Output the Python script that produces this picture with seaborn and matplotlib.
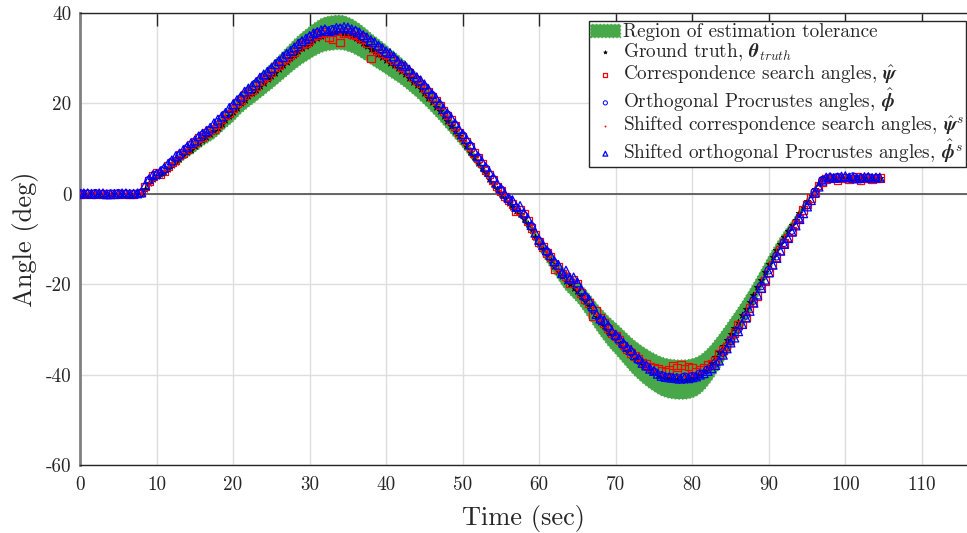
import numpy as np
import pandas as pd
import seaborn as sns
import matplotlib.pyplot as plt
from matplotlib.patches import Patch

# ground truth, sampled every 0.5 s
time_truth = np.arange(0, 104.75, 0.5)
truth = [
    0.0, 0.0, 0.0, 0.0, 0.0, 0.0, 0.0, 0.0, 0.0, 0.0, 0.0, 0.0, 0.0, 0.0, 0.0, 0.0,
    0.0, 1.0, 2.3, 3.2, 3.9, 4.3, 4.8, 5.5, 6.3, 7.0, 7.8, 8.5, 9.2, 9.8,
    10.5, 11.2, 12.0, 12.6, 13.2, 13.8, 14.6, 15.5, 16.4, 17.2, 18.0, 19.0, 20.0, 20.8,
    21.6, 22.3, 23.0, 23.8, 24.5, 25.3, 26.0, 26.8, 27.6, 28.4, 29.2, 30.0, 30.8, 31.5,
    32.2, 32.8, 33.4, 34.0, 34.5, 35.0, 35.3, 35.5, 35.6, 35.7, 35.7, 35.6, 35.3, 35.0,
    34.5, 34.0, 33.4, 32.8, 32.1, 31.5, 30.9, 30.3, 29.7, 29.0, 28.4, 27.8, 27.1, 26.4,
    25.6, 24.8, 24.0, 23.1, 22.2, 21.3, 20.3, 19.3, 18.3, 17.2, 16.1, 15.0, 13.9, 12.8,
    11.7, 10.5, 9.3, 8.1, 6.9, 5.7, 4.5, 3.3, 2.2, 1.1, 0.0, -1.0, -2.0, -2.9,
    -3.7, -4.5, -5.5, -6.7, -8.0, -9.5, -11.0, -12.3, -13.5, -14.7, -15.9, -17.0, -18.2, -19.2,
    -20.0, -20.8, -21.6, -22.6, -23.7, -24.8, -26.0, -27.2, -28.3, -29.3, -30.3, -31.2, -32.0, -32.9,
    -33.8, -34.7, -35.6, -36.4, -37.1, -37.8, -38.4, -39.0, -39.5, -40.0, -40.4, -40.7, -40.9, -41.0,
    -41.1, -41.1, -41.1, -41.0, -40.8, -40.5, -40.0, -39.3, -38.4, -37.4, -36.2, -35.0, -33.7, -32.4,
    -31.0, -29.7, -28.3, -26.9, -25.4, -23.9, -22.3, -20.7, -19.0, -17.3, -15.6, -14.0, -12.5, -11.0,
    -9.6, -8.3, -7.0, -5.7, -4.3, -2.9, -1.5, -0.2, 1.1, 2.4, 3.4, 3.6, 3.5, 3.5,
    3.5, 3.5, 3.5, 3.5, 3.5, 3.5, 3.5, 3.5, 3.5, 3.5, 3.5, 3.5,
]

# correspondence search and shifted Procrustes estimates, every 0.5 s
time_dense = np.arange(0, 104.75, 0.5)
corr_search = [
    0.0, 0.0, 0.1, -0.1, -0.1, 0.1, 0.0, 0.0, 0.1, -0.1,
    0.0, 0.1, -0.1, 0.0, 0.0, 0.1, 0.3, 1.6, 2.8, 4.0,
    4.6, 4.4, 5.0, 6.1, 6.9, 7.4, 8.6, 9.0, 9.8, 10.9,
    11.4, 12.3, 12.6, 13.5, 14.1, 14.4, 15.3, 16.6, 17.4, 17.8,
    18.9, 20.1, 20.6, 21.8, 22.5, 23.0, 23.8, 25.0, 25.6, 26.0,
    26.9, 28.0, 28.4, 29.5, 30.1, 30.6, 31.4, 32.5, 33.0, 33.4,
    34.0, 34.9, 35.1, 35.5, 35.8, 34.6, 34.1, 35.9, 33.5, 35.6,
    35.8, 35.2, 35.0, 34.7, 34.2, 33.3, 29.9, 32.3, 31.8, 31.0,
    30.6, 30.1, 29.5, 28.6, 28.0, 27.6, 26.8, 25.7, 25.1, 24.4,
    23.3, 22.5, 21.4, 20.6, 19.5, 18.3, 17.3, 16.3, 15.0, 13.6,
    12.6, 11.6, 10.4, 9.0, 7.9, 6.7, 5.3, 4.3, 3.0, 1.6,
    0.6, -0.6, -1.5, -2.2, -3.9, -3.6, -4.4, -6.0, -7.5, -9.1,
    -10.6, -11.8, -13.1, -14.0, -16.6, -16.1, -17.6, -18.3, -19.8, -19.0,
    -20.0, -22.0, -23.4, -24.2, -27.1, -25.8, -27.5, -28.6, -29.8, -30.9,
    -31.4, -32.3, -33.6, -34.4, -35.2, -35.9, -36.4, -37.3, -37.6, -38.3,
    -38.6, -38.7, -39.1, -39.3, -38.9, -38.0, -38.4, -37.9, -38.8, -38.2,
    -38.6, -39.4, -38.9, -38.6, -37.9, -37.6, -37.0, -35.4, -34.6, -33.8,
    -32.4, -30.8, -29.0, -28.9, -27.4, -25.2, -23.9, -22.6, -20.8, -19.3,
    -17.3, -15.6, -14.0, -12.4, -10.9, -9.7, -8.2, -6.7, -5.3, -3.6,
    -2.4, -0.9, 0.3, 1.8, 2.6, 3.3, 3.4, 3.6, 3.0, 3.5,
    3.6, 3.3, 3.4, 3.7, 3.1, 3.5, 3.5, 3.2, 3.4, 3.5,
]
procrustes_shifted = [
    0.0, 0.1, 0.1, 0.0, 0.0, 0.1, 0.1, -0.1, -0.1, 0.0,
    0.0, 0.1, 0.1, 0.0, 0.0, 0.1, 0.3, 1.9, 3.2, 4.1,
    4.4, 5.0, 5.7, 6.6, 7.4, 8.3, 8.9, 9.7, 10.4, 11.2,
    11.8, 12.7, 13.3, 13.9, 14.6, 15.6, 16.4, 17.1, 17.9, 19.0,
    19.8, 20.7, 21.5, 22.6, 23.3, 23.9, 24.7, 25.7, 26.4, 27.0,
    27.8, 28.7, 29.4, 30.3, 31.0, 31.6, 32.4, 33.2, 33.8, 34.3,
    34.9, 35.5, 35.8, 36.2, 36.4, 36.0, 36.2, 36.7, 36.6, 36.9,
    36.8, 36.4, 36.1, 35.7, 35.1, 34.6, 34.0, 33.5, 32.8, 32.2,
    31.5, 31.1, 30.4, 29.4, 28.7, 28.3, 27.5, 26.5, 25.8, 25.1,
    24.2, 23.2, 22.1, 21.2, 20.0, 18.8, 17.8, 16.8, 15.6, 14.3,
    13.2, 12.1, 10.9, 9.5, 8.3, 7.2, 5.9, 4.8, 3.6, 2.3,
    1.2, 0.0, -0.9, -1.4, -2.9, -2.7, -4.2, -5.4, -6.9, -8.6,
    -10.2, -11.3, -12.5, -13.6, -14.9, -15.7, -17.5, -17.0, -18.8, -18.5,
    -19.6, -21.2, -22.5, -23.4, -24.9, -26.6, -27.6, -28.0, -29.1, -30.4,
    -31.2, -32.0, -33.0, -33.9, -34.6, -35.7, -36.4, -37.4, -38.0, -38.7,
    -39.2, -39.8, -40.3, -40.5, -40.6, -40.7, -40.8, -40.9, -40.7, -40.8,
    -40.6, -40.4, -40.0, -39.7, -39.2, -38.6, -37.9, -36.9, -35.6, -34.2,
    -32.9, -31.8, -30.4, -28.8, -27.4, -25.9, -24.1, -22.3, -20.8, -19.0,
    -17.4, -15.7, -14.2, -12.6, -11.1, -9.8, -8.4, -7.0, -5.6, -4.3,
    -2.8, -1.4, 0.2, 1.6, 2.9, 3.6, 3.7, 3.5, 3.6, 3.8,
    3.9, 3.6, 3.6, 3.4, 3.5, 3.7, 3.7, 3.5, 3.6, 3.6,
]

# Procrustes and shifted correspondence estimates, every 1 s
time_est = np.arange(0, 105, 1)
procrustes = [
    0.1, 0.0, 0.1, -0.1, 0.0, 0.1, 0.0, -0.1, 0.2, 3.0,
    4.2, 5.4, 7.1, 8.4, 10.1, 11.2, 13.0, 14.0, 15.8, 17.5,
    19.3, 21.1, 22.8, 24.4, 25.9, 27.4, 29.0, 30.6, 32.0, 33.5,
    34.6, 35.6, 36.2, 36.4, 36.5, 36.3, 35.9, 34.8, 33.6, 32.4,
    31.0, 29.8, 28.3, 27.0, 25.3, 23.7, 21.8, 19.6, 17.5, 15.2,
    12.9, 10.6, 8.0, 5.6, 3.2, 0.9, -1.2, -3.1, -4.8, -7.2,
    -10.5, -12.8, -15.4, -17.9, -19.1, -20.6, -22.8, -25.5, -28.0, -29.6,
    -31.6, -33.4, -35.0, -36.8, -38.2, -39.4, -40.2, -40.6, -40.7, -40.5,
    -40.4, -39.8, -38.9, -37.5, -35.1, -32.5, -30.0, -26.9, -23.6, -20.4,
    -16.9, -13.8, -10.8, -8.1, -5.4, -2.5, 0.4, 3.0, 3.6, 3.7,
    3.5, 3.8, 3.4, 3.6, 3.5,
]
corr_shifted = [
    0.0, 0.0, 0.1, 0.0, 0.0, -0.1, 0.0, 0.0, 0.2, 2.5,
    4.1, 5.0, 6.6, 8.1, 9.5, 10.9, 12.4, 13.6, 15.0, 16.9,
    18.5, 20.4, 22.0, 23.5, 25.0, 26.5, 28.1, 29.7, 31.2, 32.7,
    33.9, 34.9, 35.6, 35.2, 35.4, 35.6, 35.0, 33.9, 32.6, 31.4,
    30.2, 28.9, 27.6, 26.2, 24.6, 22.8, 20.9, 18.9, 16.7, 14.5,
    12.2, 9.9, 7.5, 5.0, 2.7, 0.4, -1.7, -3.4, -5.1, -7.6,
    -10.7, -13.2, -15.7, -18.0, -19.6, -21.0, -23.3, -25.8, -28.0, -30.0,
    -31.8, -33.6, -35.3, -36.9, -38.2, -39.3, -40.0, -40.1, -40.0, -40.2,
    -40.0, -39.5, -38.3, -36.8, -34.3, -31.8, -29.1, -26.3, -23.2, -19.9,
    -16.5, -13.3, -10.3, -7.6, -4.9, -2.1, 0.6, 3.0, 3.5, 3.5,
    3.6, 3.5, 3.4, 3.5, 3.5,
]

tolerance_frac = 0.10  # tolerance as a fraction of the true angle
x_ticks = [0, 10, 20, 30, 40, 50, 60, 70, 80, 90, 100, 110]
y_ticks = [-60, -40, -20, 0, 20, 40]

green = "#48a748"

df_truth = pd.DataFrame({"t": time_truth, "angle": truth})
df_dense = pd.DataFrame({"t": time_dense, "corr": corr_search, "proc_s": procrustes_shifted})
df_est = pd.DataFrame({"t": time_est, "proc": procrustes, "corr_s": corr_shifted})
tol = tolerance_frac * np.abs(df_truth["angle"]) + 0.2

sns.set_theme(style="white")
plt.rcParams["font.family"] = ["cmr10", "DejaVu Serif"]
plt.rcParams["mathtext.fontset"] = "cm"
plt.rcParams["axes.unicode_minus"] = False

fig = plt.figure(figsize=(9.67, 5.33), dpi=100)
ax = fig.add_axes([80 / 967, 68 / 533, 887 / 967, 452 / 533])

ax.fill_between(df_truth["t"], df_truth["angle"] - tol, df_truth["angle"] + tol,
                color=green, edgecolor=green, linestyle=":", linewidth=1, zorder=2)
ax.axhline(0, color="#4d4d4d", lw=1.2, zorder=1.5)

sns.scatterplot(data=df_truth, x="t", y="angle", ax=ax, marker="*", s=26,
                color="black", edgecolor="black", linewidth=0.4, zorder=3)
sns.scatterplot(data=df_dense, x="t", y="corr", ax=ax, marker="s", s=30,
                color="red", facecolor="none", edgecolor="red", linewidth=0.9, zorder=4)
sns.scatterplot(data=df_est, x="t", y="proc", ax=ax, marker="o", s=30,
                color="blue", facecolor="none", edgecolor="blue", linewidth=0.7, zorder=4)
sns.scatterplot(data=df_est, x="t", y="corr_s", ax=ax, marker="o", s=6,
                color="red", edgecolor="red", linewidth=0, zorder=5)
sns.scatterplot(data=df_dense, x="t", y="proc_s", ax=ax, marker="^", s=40,
                color="blue", facecolor="none", edgecolor="blue", linewidth=0.9, zorder=5)

ax.set_xlim(0, 115.9)
ax.set_ylim(-60, 40)
ax.set_xticks(x_ticks, labels=[str(v) for v in x_ticks])
ax.set_yticks(y_ticks, labels=[str(v) for v in y_ticks])
ax.grid(True, color="#dedede", lw=1)
ax.set_axisbelow(True)
ax.tick_params(direction="in", length=9, width=1, top=True, right=False,
               labelsize=13.8, colors="#262626")
ax.tick_params(axis="x", pad=8)
ax.tick_params(axis="y", pad=6)
for side in ["top", "bottom"]:
    ax.spines[side].set_color("#262626")
    ax.spines[side].set_linewidth(1)
ax.spines["left"].set_color("#808080")
ax.spines["left"].set_linewidth(2)
ax.spines["right"].set_visible(False)

ax.set_xlabel("Time (sec)", fontsize=19, color="#262626", labelpad=8)
ax.set_ylabel("Angle (deg)", fontsize=19, color="#262626", labelpad=5)

handles = ax.collections[1:6]
handles = [Patch(facecolor=green, edgecolor=green, linestyle=":")] + list(handles)
labels = [
    "Region of estimation tolerance",
    r"Ground truth, $\boldsymbol{\theta}_{truth}$",
    r"Correspondence search angles, $\hat{\boldsymbol{\psi}}$",
    r"Orthogonal Procrustes angles, $\hat{\boldsymbol{\phi}}$",
    r"Shifted correspondence search angles, $\hat{\boldsymbol{\psi}}^s$",
    r"Shifted orthogonal Procrustes angles, $\hat{\boldsymbol{\phi}}^s$",
]
leg = ax.legend(handles, labels, loc="upper right",
                bbox_to_anchor=(966 / 967, 1 - 21 / 533), bbox_transform=fig.transFigure,
                borderaxespad=0, fontsize=13.8, frameon=True, fancybox=False,
                framealpha=1, edgecolor="#262626", handlelength=1.55,
                handletextpad=0.15, borderpad=0.1, labelspacing=0.02, markerscale=0.55)
leg.get_frame().set_linewidth(1)

fig.savefig("out.png", dpi=100)
